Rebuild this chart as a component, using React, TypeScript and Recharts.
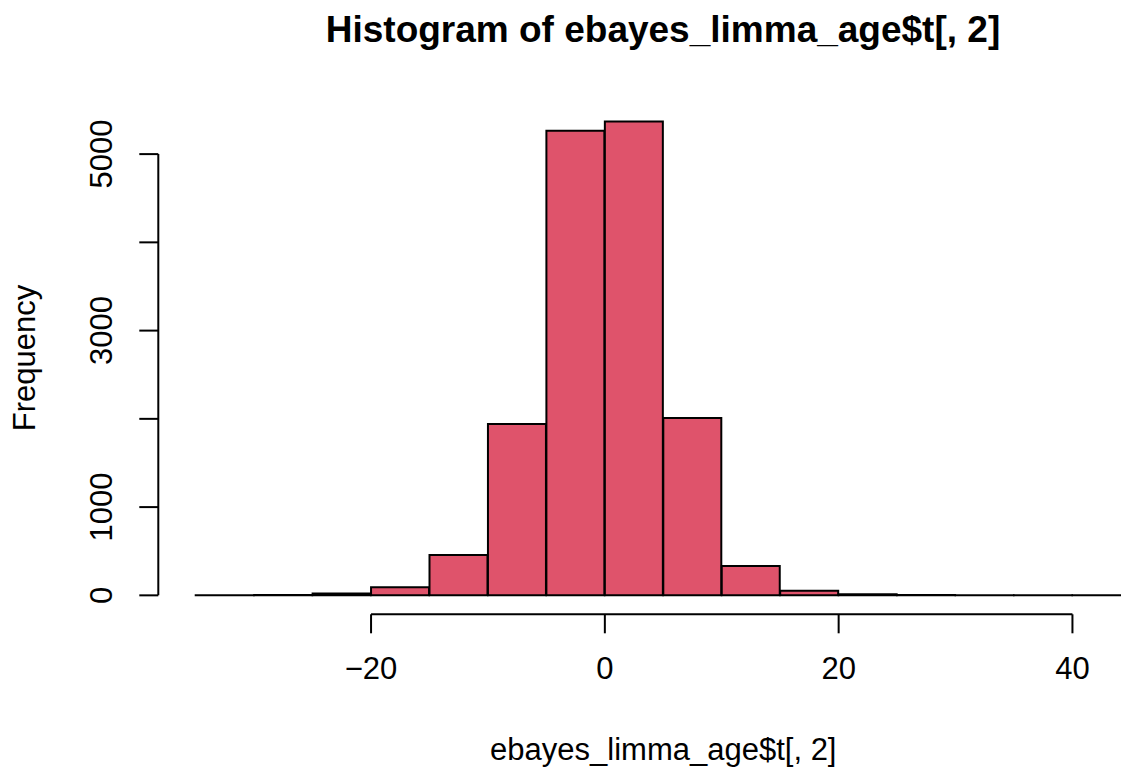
import React from "react";
import { ComposedChart, Bar, XAxis, YAxis, ReferenceLine, Label } from "recharts";

// histogram bins (left edges), width 5
const binStarts = [-35, -30, -25, -20, -15, -10, -5, 0, 5, 10, 15, 20, 25, 30, 35, 40];
const counts = [1, 4, 22, 91, 457, 1942, 5265, 5370, 2010, 332, 52, 12, 3, 2, 1, 1];
const binWidth = 5;

const xTicks = [-20, 0, 20, 40];
const yTicks = [0, 1000, 2000, 3000, 4000, 5000];
const yTickLabels = ["0", "1000", "", "3000", "", "5000"];

const title = "Histogram of ebayes_limma_age$t[, 2]";
const xTitle = "ebayes_limma_age$t[, 2]";
const yTitle = "Frequency";

const data = binStarts.map((start, i) => ({ mid: start + binWidth / 2, count: counts[i] }));

// R style limits: data range widened by 4% on each side
const xLo = binStarts[0];
const xHi = binStarts[binStarts.length - 1] + binWidth;
const yHi = Math.max(...counts);
const xDomain = [xLo - 0.04 * (xHi - xLo), xHi + 0.04 * (xHi - xLo)];
const yDomain = [-0.04 * yHi, 1.04 * yHi];

const FONT = "'Liberation Sans', Arial, Helvetica, sans-serif";
const BAR_FILL = "#DF536B";

const fmt = (v: number) => (v < 0 ? `\u2212${Math.abs(v)}` : String(v));

function XTick({ x, y, payload }: any) {
  return (
    <text x={x} y={y + 46} textAnchor="middle" fontSize={31} fontFamily={FONT} fill="#000">
      {fmt(payload.value)}
    </text>
  );
}

function YTick({ x, y, payload }: any) {
  const label = yTickLabels[yTicks.indexOf(payload.value)];
  if (!label) return null;
  const bx = x - 27;
  return (
    <text
      x={bx}
      y={y}
      transform={`rotate(-90, ${bx}, ${y})`}
      textAnchor="middle"
      fontSize={31}
      fontFamily={FONT}
      fill="#000"
    >
      {label}
    </text>
  );
}

export default function App() {
  return (
    <div
      style={{
        position: "absolute",
        left: 0,
        top: 0,
        width: 1121,
        height: 770,
        overflow: "hidden",
        background: "#fff",
      }}
    >
      <ComposedChart
        width={1200}
        height={770}
        data={data}
        margin={{ top: 102.5, right: 31.7, left: 0, bottom: 0 }}
        barCategoryGap={0}
        barGap={0}
      >
        <XAxis
          dataKey="mid"
          type="number"
          domain={xDomain}
          allowDataOverflow
          ticks={xTicks}
          interval={0}
          height={155.7}
          axisLine={false}
          tickSize={19}
          tickMargin={0}
          tickLine={{ stroke: "#000", strokeWidth: 2 }}
          tick={<XTick />}
        >
          <Label
            value={xTitle}
            position="insideBottom"
            offset={10}
            fontSize={31}
            fontFamily={FONT}
            fill="#000"
          />
        </XAxis>
        <YAxis
          type="number"
          domain={yDomain}
          allowDataOverflow
          ticks={yTicks}
          interval={0}
          width={158.3}
          axisLine={false}
          tickSize={19}
          tickMargin={0}
          tickLine={{ stroke: "#000", strokeWidth: 2 }}
          tick={<YTick />}
        >
          <Label
            content={() => (
              <text
                x={35}
                y={358}
                transform="rotate(-90, 35, 358)"
                textAnchor="middle"
                fontSize={31}
                fontFamily={FONT}
                fill="#000"
              >
                {yTitle}
              </text>
            )}
          />
        </YAxis>
        <Bar
          dataKey="count"
          fill={BAR_FILL}
          stroke="#000"
          strokeWidth={2}
          isAnimationActive={false}
        />
        <ReferenceLine
          segment={[
            { x: xTicks[0], y: yDomain[0] },
            { x: xTicks[xTicks.length - 1], y: yDomain[0] },
          ]}
          stroke="#000"
          strokeWidth={2}
          ifOverflow="visible"
        />
        <ReferenceLine
          segment={[
            { x: xDomain[0], y: yTicks[0] },
            { x: xDomain[0], y: yTicks[yTicks.length - 1] },
          ]}
          stroke="#000"
          strokeWidth={2}
          ifOverflow="visible"
        />
      </ComposedChart>
      <svg
        width={1121}
        height={770}
        style={{ position: "absolute", left: 0, top: 0, pointerEvents: "none" }}
      >
        <text
          x={663}
          y={42}
          textAnchor="middle"
          fontSize={37}
          fontWeight="bold"
          fontFamily={FONT}
          fill="#000"
        >
          {title}
        </text>
      </svg>
    </div>
  );
}
